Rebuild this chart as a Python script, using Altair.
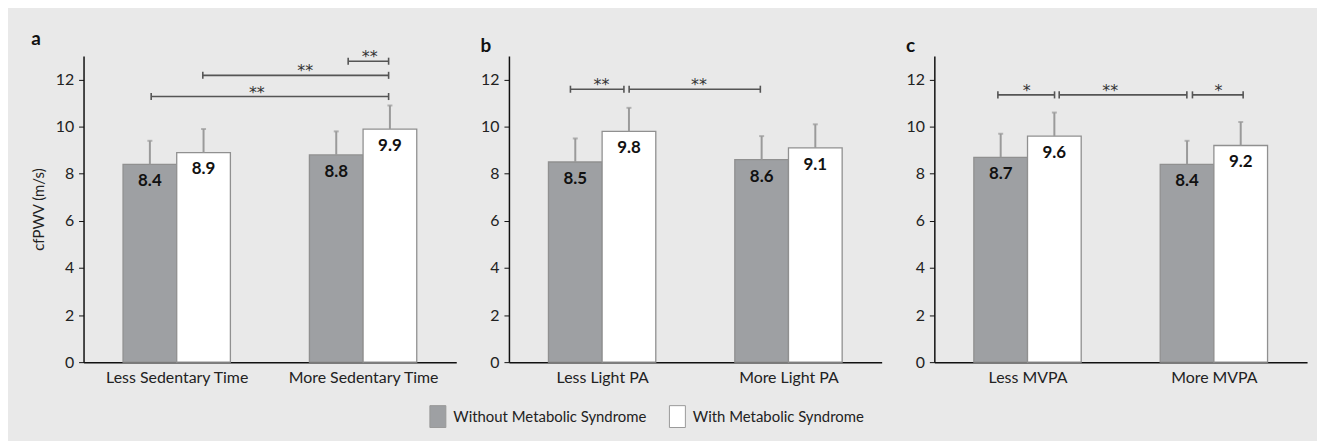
import altair as alt
import pandas as pd

# ---------------- data ----------------
panel_ids = ["a", "b", "c"]
categories = [
    ["Less Sedentary Time", "More Sedentary Time"],
    ["Less Light PA", "More Light PA"],
    ["Less MVPA", "More MVPA"],
]
series = ["Without Metabolic Syndrome", "With Metabolic Syndrome"]
# order in each list: cat1-without, cat1-with, cat2-without, cat2-with
means_a = [8.4, 8.9, 8.8, 9.9]
means_b = [8.5, 9.8, 8.6, 9.1]
means_c = [8.7, 9.6, 8.4, 9.2]
sds_a = [1.0, 1.0, 1.0, 1.0]
sds_b = [1.0, 1.0, 1.0, 1.0]
sds_c = [1.0, 1.0, 1.0, 1.0]
means = [means_a, means_b, means_c]
sds = [sds_a, sds_b, sds_c]

# significance brackets (x in category units, 0..2)
br_a = {"x1": [0.363, 0.64, 1.42], "x2": [1.637, 1.637, 1.637],
        "y": [11.28, 12.18, 12.78], "sig": ["**", "**", "**"],
        "tx": [0.93, 1.19, 1.536]}
br_b = {"x1": [0.33, 0.645], "x2": [0.617, 1.349],
        "y": [11.59, 11.59], "sig": ["**", "**"],
        "tx": [0.496, 1.02]}
br_c = {"x1": [0.341, 0.67, 1.385], "x2": [0.645, 1.355, 1.657],
        "y": [11.35, 11.35, 11.35], "sig": ["*", "**", "*"],
        "tx": [0.496, 0.944, 1.525]}
brackets = [br_a, br_b, br_c]

# ---------------- style ----------------
GRAY = "#9ea0a3"
WHITE = "#ffffff"
HALF = 0.144          # half bar width in category units
CAP = 0.15            # bracket cap half height (data units)
FONT = "Lato"
W, H = 375, 308


def panel(k):
    rows = []
    for i in range(2):
        for s in range(2):
            m = means[k][2 * i + s]
            rows.append({"cat": i, "s": s, "series": series[s], "mean": m,
                         "top": m + sds[k][2 * i + s], "label": f"{m:.1f}"})
    df = pd.DataFrame(rows)
    b = brackets[k]
    bdf = pd.DataFrame(b)
    caps = pd.DataFrame({"x": b["x1"] + b["x2"], "y": b["y"] + b["y"]})
    caps["ylo"] = caps["y"] - CAP
    caps["yhi"] = caps["y"] + CAP

    c1, c2 = categories[k]
    xscale = alt.Scale(domain=[0, 2], nice=False, zero=False)
    yscale = alt.Scale(domain=[0, 13], nice=False)
    xaxis = alt.Axis(values=[0.5, 1.5], title=None, grid=False, ticks=False,
                     labelExpr=f"datum.value == 0.5 ? '{c1}' : '{c2}'",
                     domainColor="#111", domainWidth=1.5, labelPadding=7,
                     labelFontSize=16, labelColor="#222", labelFont=FONT)
    yaxis = alt.Axis(values=list(range(0, 13, 2)), grid=False,
                     title="cfPWV (m/s)" if k == 0 else None,
                     titleFontSize=15, titleFontWeight="normal", titleColor="#222",
                     titleFont=FONT, titlePadding=9,
                     domainColor="#111", domainWidth=1.5, tickColor="#111",
                     tickSize=5, labelPadding=5, labelFontSize=16,
                     labelColor="#222", labelFont=FONT)

    base = alt.Chart(df).transform_calculate(
        xc=f"datum.cat + 0.5 + (datum.s - 0.5) * {2 * HALF}",
        x0=f"datum.cat + 0.5 + (datum.s - 0.5) * {2 * HALF} - {HALF}",
        x1=f"datum.cat + 0.5 + (datum.s - 0.5) * {2 * HALF} + {HALF}",
    )
    bars = base.mark_bar(stroke="#909090", strokeWidth=1.3).encode(
        x=alt.X("x0:Q", scale=xscale, axis=xaxis),
        x2="x1:Q",
        y=alt.Y("mean:Q", scale=yscale, axis=yaxis, stack=None),
        y2=alt.datum(0),
        color=alt.Color("series:N", scale=alt.Scale(domain=series, range=[GRAY, WHITE]),
                        legend=alt.Legend(orient="none", direction="horizontal",
                                          legendX=345, legendY=351, title=None,
                                          symbolType="M-0.73,-1H0.73V1H-0.73Z",
                                          symbolSize=484, symbolStrokeColor="#999",
                                          symbolStrokeWidth=1, labelFontSize=15,
                                          labelFont=FONT, labelColor="#222",
                                          labelLimit=0,
                                          labelOffset=4, columnPadding=19, padding=0)),
    )
    err = base.mark_rule(color="#9a9a9a", strokeWidth=2).encode(
        x="xc:Q", y="mean:Q", y2="top:Q")
    errcap = base.mark_tick(orient="horizontal", size=5, thickness=2,
                            color="#9a9a9a").encode(x="xc:Q", y="top:Q")
    vals = base.mark_text(dy=17, fontSize=17, fontWeight="bold", font=FONT,
                          color="#111").encode(x="xc:Q", y="mean:Q", text="label:N")
    brl = alt.Chart(bdf).mark_rule(color="#555", strokeWidth=1.6).encode(
        x="x1:Q", x2="x2:Q", y="y:Q")
    brc = alt.Chart(caps).mark_rule(color="#555", strokeWidth=1.6).encode(
        x="x:Q", y="ylo:Q", y2="yhi:Q")
    stars = alt.Chart(bdf).mark_text(dy=1, fontSize=16, font="DejaVu Sans",
                                     color="#333", baseline="alphabetic").encode(
        x="tx:Q", y="y:Q", text="sig:N")
    return alt.layer(bars, err, errcap, vals, brl, brc, stars).properties(
        width=W, height=H,
        title=alt.TitleParams(panel_ids[k], anchor="start", frame="bounds",
                              fontSize=19, fontWeight="bold", font=FONT,
                              color="#111", offset=0),
    )


chart = alt.hconcat(panel(0), panel(1), panel(2), spacing=24).properties(
    background="#e9e9e9",
    padding={"left": 23, "top": 21, "right": 10, "bottom": 10},
).configure_view(stroke=None)

chart.save("out.html", embed_options={"renderer": "svg", "actions": False})
